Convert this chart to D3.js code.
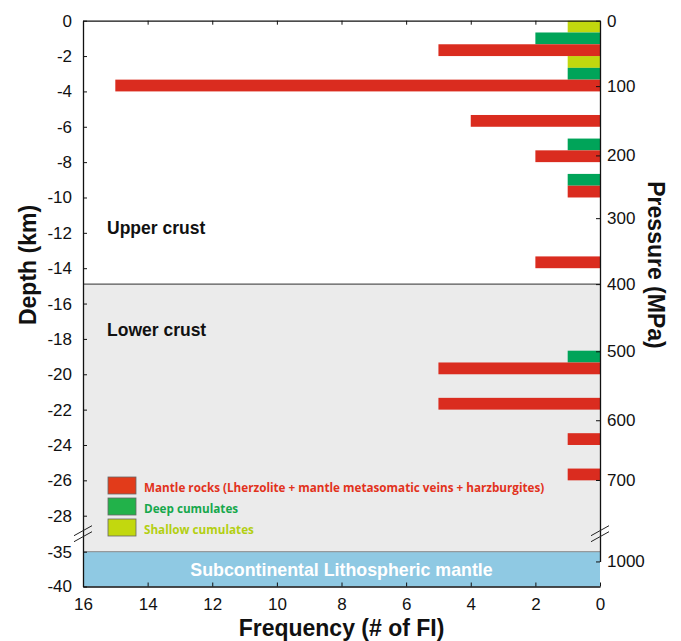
<!DOCTYPE html>
<html>
<head>
<meta charset="utf-8">
<script src="https://cdn.jsdelivr.net/npm/d3@7/dist/d3.min.js"></script>
<style>
  body { margin: 0; background: #fff; }
  svg text { font-family: "Liberation Sans", Arial, sans-serif; }
</style>
</head>
<body>
<div id="chart"></div>
<script>
// 2 km depth bins (top of each bin, km)
const binTops = [0, -2, -4, -6, -8, -10, -12, -14, -16, -18, -20, -22, -24];
const shallowCumulates = [1, 1, 0, 0, 0, 0, 0, 0, 0, 0, 0, 0, 0];
const deepCumulates    = [2, 1, 0, 1, 1, 0, 0, 0, 0, 1, 0, 0, 0];
const mantleRocks      = [5, 15, 4, 2, 1, 0, 2, 0, 0, 5, 5, 1, 1];

const depthTicks = [0, -2, -4, -6, -8, -10, -12, -14, -16, -18, -20, -22, -24, -26, -28, -35, -40];
const freqTicks = [16, 14, 12, 10, 8, 6, 4, 2, 0];
const pressureTicks = [0, 100, 200, 300, 400, 500, 600, 700, 1000];
const pressureDepth = [0, -3.7, -7.62, -11.17, -14.9, -18.7, -22.6, -25.98, -36.4];

const layers = [
    { name: 'Upper crust', top: 0, bottom: -14.9 },
    { name: 'Lower crust', top: -14.9, bottom: -35 },
    { name: 'Subcontinental Lithospheric mantle', top: -35, bottom: -40 }
];

const groups = [
    { key: 'shallow', label: 'Shallow cumulates', values: shallowCumulates, color: '#c2d80e', swatch: '#c2d80e', text: '#b3cf12' },
    { key: 'deep', label: 'Deep cumulates', values: deepCumulates, color: '#00a459', swatch: '#22b24a', text: '#16a84c' },
    { key: 'mantle', label: 'Mantle rocks (Lherzolite + mantle metasomatic veins + harzburgites)', values: mantleRocks, color: '#da2c1f', swatch: '#e23b1a', text: '#e2321c' }
];

const W = 681, H = 641;
const svg = d3.select('#chart').append('svg').attr('width', W).attr('height', H);

// scales (depth axis is broken between -28 and -35)
const x = d3.scaleLinear().domain([16, 0]).range([83, 600]);
const y = d3.scaleLinear().domain([0, -28, -35, -40]).range([20.7, 515.7, 551.7, 586.5]);
const yp = d3.scaleLinear().domain(pressureTicks).range(pressureDepth.map(d => y(d)));
const sub = d3.scaleBand().domain(groups.map(g => g.key));

// background layers
svg.append('rect')
    .attr('x', x(16)).attr('width', x(0) - x(16))
    .attr('y', y(layers[1].top)).attr('height', y(layers[1].bottom) - y(layers[1].top))
    .attr('fill', '#ebebeb');
svg.append('rect')
    .attr('x', x(16)).attr('width', x(0) - x(16))
    .attr('y', y(layers[2].top)).attr('height', y(layers[2].bottom) - y(layers[2].top))
    .attr('fill', '#8fc9e3');
svg.append('line')
    .attr('x1', x(16)).attr('x2', x(0))
    .attr('y1', y(layers[1].top)).attr('y2', y(layers[1].top))
    .attr('stroke', '#555').attr('stroke-width', 1.3);
svg.append('line')
    .attr('x1', x(16)).attr('x2', x(0))
    .attr('y1', y(layers[2].top)).attr('y2', y(layers[2].top))
    .attr('stroke', '#888').attr('stroke-width', 1);

// bars
groups.forEach(g => {
    svg.append('g').selectAll('rect')
        .data(binTops.map((t, i) => ({ top: t, v: g.values[i] })).filter(d => d.v > 0))
        .enter().append('rect')
        .attr('x', d => x(d.v))
        .attr('width', d => x(0) - x(d.v))
        .attr('y', d => {
            sub.range([y(d.top), y(d.top - 2)]);
            return sub(g.key);
        })
        .attr('height', d => {
            sub.range([y(d.top), y(d.top - 2)]);
            return sub.bandwidth();
        })
        .attr('fill', g.color);
});

// layer labels
svg.append('text').attr('x', 107).attr('y', 233.5).text(layers[0].name)
    .attr('font-size', 17.5).attr('font-weight', 'bold').attr('fill', '#111');
svg.append('text').attr('x', 107).attr('y', 336).text(layers[1].name)
    .attr('font-size', 17.5).attr('font-weight', 'bold').attr('fill', '#111');
svg.append('text').attr('x', (x(16) + x(0)) / 2).attr('y', (y(-35) + y(-40)) / 2 + 6.5)
    .attr('text-anchor', 'middle').text(layers[2].name)
    .attr('font-size', 17.8).attr('font-weight', 'bold').attr('fill', '#fff');

// axes
function styleAxis(sel) {
    sel.select('.domain').attr('stroke', '#111').attr('stroke-width', 1.3);
    sel.selectAll('.tick line').attr('stroke', '#111').attr('stroke-width', 1);
    sel.selectAll('.tick text').attr('font-size', 17).attr('fill', '#111')
        .style('font-family', '"Liberation Sans", Arial, sans-serif');
}
const plain = d => String(d);

svg.append('g').attr('transform', `translate(${x(16)},0)`)
    .call(d3.axisLeft(y).tickValues(depthTicks).tickFormat(plain).tickSize(-4).tickSizeOuter(0).tickPadding(11))
    .call(styleAxis);

svg.append('g').attr('transform', `translate(${x(0)},0)`)
    .call(d3.axisRight(yp).tickValues(pressureTicks).tickFormat(plain).tickSize(-4).tickSizeOuter(0).tickPadding(7))
    .call(styleAxis);

svg.append('g').attr('transform', `translate(0,${y(-40)})`)
    .call(d3.axisBottom(x).tickValues(freqTicks).tickFormat(plain).tickSize(-4).tickSizeOuter(0).tickPadding(11))
    .call(styleAxis);

svg.append('g').attr('transform', `translate(0,${y(0)})`)
    .call(d3.axisTop(x).tickValues(freqTicks).tickSize(-4).tickSizeOuter(0).tickFormat(''))
    .call(styleAxis);

// axis breaks
const breakY = (y(-28) + y(-35)) / 2 + 0;
[x(16), x(0)].forEach(bx => {
    [-3, 3].forEach(off => {
        svg.append('line')
            .attr('x1', bx - 9).attr('y1', breakY + off + 5)
            .attr('x2', bx + 9).attr('y2', breakY + off - 5)
            .attr('stroke', '#222').attr('stroke-width', 1);
    });
});

// axis titles
svg.append('text')
    .attr('transform', 'translate(36,265) rotate(-90)')
    .attr('text-anchor', 'middle').text('Depth (km)')
    .attr('font-size', 23).attr('font-weight', 'bold').attr('fill', '#111');
svg.append('text')
    .attr('transform', 'translate(648,265) rotate(90)')
    .attr('text-anchor', 'middle').text('Pressure (MPa)')
    .attr('font-size', 23).attr('font-weight', 'bold').attr('fill', '#111');
svg.append('text')
    .attr('x', (x(16) + x(0)) / 2).attr('y', 636)
    .attr('text-anchor', 'middle').text('Frequency (# of FI)')
    .attr('font-size', 23).attr('font-weight', 'bold').attr('fill', '#111');

// legend
const legend = svg.append('g').attr('transform', 'translate(108,477)');
groups.slice().reverse().forEach((g, i) => {
    const row = legend.append('g').attr('transform', `translate(0,${i * 21})`);
    row.append('rect').attr('width', 28).attr('height', 17)
        .attr('fill', g.swatch)
        .attr('stroke', '#666').attr('stroke-width', 0.8);
    row.append('text').attr('x', 36).attr('y', 14.5).text(g.label)
        .attr('font-size', 11.7).attr('font-weight', 'bold').attr('fill', g.text)
        .style('font-family', '"Open Sans", "Liberation Sans", sans-serif');
});
</script>
</body>
</html>
